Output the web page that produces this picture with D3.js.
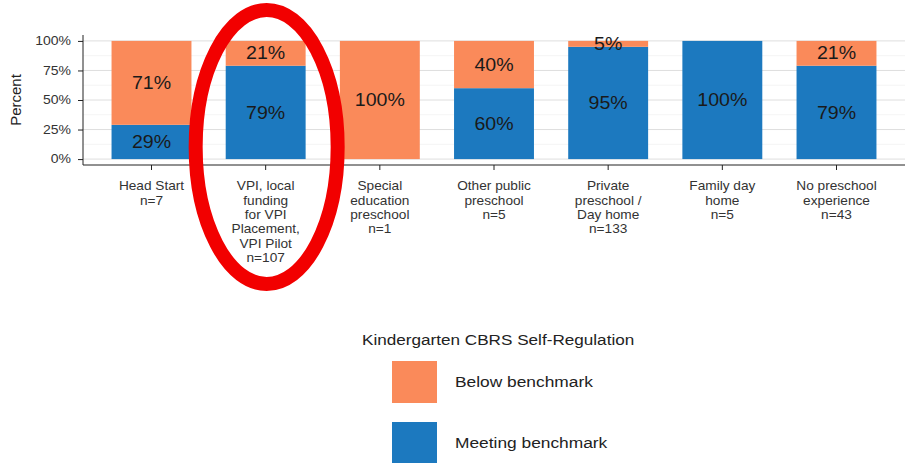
<!DOCTYPE html>
<html>
<head>
<meta charset="utf-8">
<script src="https://cdn.jsdelivr.net/npm/d3@7"></script>
<style>
  body { margin: 0; background: #fff; }
  text { font-family: "Liberation Sans", Arial, sans-serif; }
</style>
</head>
<body>
<div id="chart"></div>
<script>
// categories and values
var categories = ["Head Start|n=7", "VPI, local|funding|for VPI|Placement,|VPI Pilot|n=107",
  "Special|education|preschool|n=1", "Other public|preschool|n=5",
  "Private|preschool /|Day home|n=133", "Family day|home|n=5", "No preschool|experience|n=43"];
var meeting = [29, 79, 0, 60, 95, 100, 79];
var below = [71, 21, 100, 40, 5, 0, 21];
var yTicks = [0, 25, 50, 75, 100];
var seriesNames = ["Below benchmark", "Meeting benchmark"];
var legendTitle = "Kindergarten CBRS Self-Regulation";

var svgWidth = 905;
var svgHeight = 463;
var colorBelow = "#fa8a5a";
var colorMeet = "#1c79bf";
var stretch = 1.12; // the source picture is a little wide

var svg = d3.select("#chart")
  .append("svg")
  .attr("width", svgWidth)
  .attr("height", svgHeight);

var panel = { left: 83, right: 905, top: 35, bottom: 165 };

// ggplot style expansion: 0.6 units on each side of the discrete axis
var x = d3.scaleLinear()
  .domain([0.4, categories.length + 0.6])
  .range([panel.left, panel.right]);
var unit = x(2) - x(1);
var barW = unit * 0.7;

var y = d3.scaleLinear()
  .domain([-5, 105])
  .range([panel.bottom, panel.top]);

function wideText(px, py, size, anchor) {
  return svg.append("text")
    .attr("transform", `translate(${px}, ${py}) scale(${stretch}, 1)`)
    .attr("text-anchor", anchor)
    .attr("font-size", size);
}

// grid
var minor = [12.5, 37.5, 62.5, 87.5];
svg.selectAll(".minor").data(minor).enter().append("line")
  .attr("x1", panel.left).attr("x2", panel.right)
  .attr("y1", d => y(d)).attr("y2", d => y(d))
  .attr("stroke", "#ececec").attr("stroke-width", 0.6);
svg.selectAll(".major").data(yTicks).enter().append("line")
  .attr("x1", panel.left).attr("x2", panel.right)
  .attr("y1", d => y(d)).attr("y2", d => y(d))
  .attr("stroke", "#dedede").attr("stroke-width", 1);

// bars
var rows = categories.map(function(c, i) {
  return { i: i, meet: meeting[i], below: below[i] };
});

svg.selectAll(".meet").data(rows).enter().append("rect")
  .attr("x", d => x(d.i + 1) - barW / 2)
  .attr("width", barW)
  .attr("y", d => y(d.meet))
  .attr("height", d => y(0) - y(d.meet))
  .attr("fill", colorMeet);

svg.selectAll(".below").data(rows).enter().append("rect")
  .attr("x", d => x(d.i + 1) - barW / 2)
  .attr("width", barW)
  .attr("y", d => y(d.meet + d.below))
  .attr("height", d => y(d.meet) - y(d.meet + d.below))
  .attr("fill", colorBelow);

// bar labels
rows.forEach(function(d) {
  if (d.meet > 0) {
    wideText(x(d.i + 1), y(d.meet / 2), 17.5, "middle")
      .attr("dy", "0.35em").attr("fill", "#1a1a1a")
      .text(d.meet + "%");
  }
  if (d.below > 0) {
    wideText(x(d.i + 1), y(d.meet + d.below / 2), 17.5, "middle")
      .attr("dy", "0.35em").attr("fill", "#1a1a1a")
      .text(d.below + "%");
  }
});

// axes
var leftAxis = d3.axisLeft(y).tickValues(yTicks).tickFormat("").tickSize(5);
var yAxis = svg.append("g")
  .attr("transform", `translate(${panel.left}, 0)`)
  .call(leftAxis);
yAxis.select(".domain").attr("d", `M0,${panel.top}V${panel.bottom}`).attr("stroke", "#222");
yAxis.selectAll(".tick line").attr("stroke", "#222");
yTicks.forEach(function(t) {
  wideText(panel.left - 12, y(t), 12.5, "end")
    .attr("dy", "0.35em").attr("fill", "#333")
    .text(t + "%");
});

svg.append("line")
  .attr("x1", panel.left).attr("x2", panel.right)
  .attr("y1", panel.bottom).attr("y2", panel.bottom)
  .attr("stroke", "#222");

rows.forEach(function(d) {
  svg.append("line")
    .attr("x1", x(d.i + 1)).attr("x2", x(d.i + 1))
    .attr("y1", panel.bottom).attr("y2", panel.bottom + 5)
    .attr("stroke", "#222");
  var t = wideText(x(d.i + 1), 0, 12.2, "middle").attr("fill", "#333");
  categories[d.i].split("|").forEach(function(line, k) {
    t.append("tspan")
      .attr("x", 0)
      .attr("y", 190.5 + k * 14.3)
      .text(line);
  });
});

svg.append("text")
  .attr("transform", `translate(21, ${(panel.top + panel.bottom) / 2}) rotate(-90)`)
  .attr("text-anchor", "middle")
  .attr("font-size", 15).attr("fill", "#222")
  .text("Percent");

// legend
wideText(362, 345, 15.3, "start")
  .attr("fill", "#222")
  .text(legendTitle);

var legendColors = [colorBelow, colorMeet];
seriesNames.forEach(function(name, k) {
  svg.append("rect")
    .attr("x", 392).attr("y", 361 + k * 61)
    .attr("width", 45).attr("height", 42)
    .attr("fill", legendColors[k]);
  wideText(455, 382 + k * 61, 15.5, "start")
    .attr("dy", "0.35em").attr("fill", "#222")
    .text(name);
});

// red highlight annotation around the VPI bar
svg.append("ellipse")
  .attr("cx", x(2) + 1).attr("cy", 147)
  .attr("rx", 71).attr("ry", 137)
  .attr("fill", "none")
  .attr("stroke", "#f20000")
  .attr("stroke-width", 14);
</script>
</body>
</html>
